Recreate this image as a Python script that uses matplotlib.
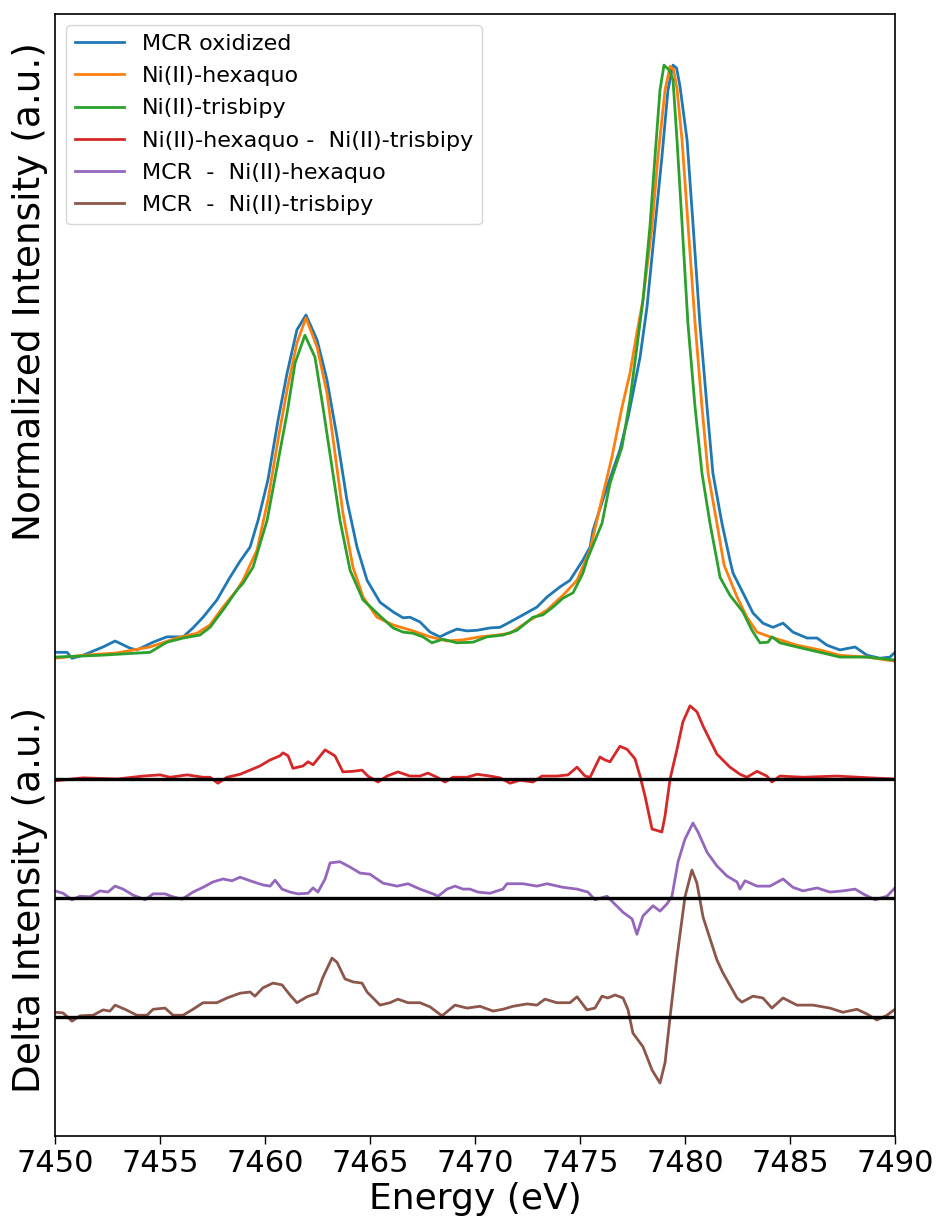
import matplotlib
matplotlib.use("Agg")
import matplotlib.pyplot as plt

# ---------------- data ----------------
mcr_E = [7450.00, 7450.57, 7450.81, 7451.33, 7452.29, 7452.86, 7453.57, 7453.90, 7454.67, 7455.33,
         7456.10, 7456.57, 7457.05, 7457.71, 7458.33, 7458.81, 7459.29, 7459.67, 7460.14, 7460.62,
         7461.05, 7461.52, 7461.95, 7462.48, 7462.95, 7463.43, 7463.90, 7464.38, 7464.86, 7465.48,
         7466.10, 7466.57, 7466.90, 7467.38, 7467.86, 7468.33, 7468.67, 7469.14, 7469.62, 7470.10,
         7470.71, 7471.19, 7471.67, 7472.29, 7472.95, 7473.43, 7474.05, 7474.52, 7475.14, 7475.48,
         7475.62, 7476.29, 7476.90, 7477.29, 7477.62, 7477.86, 7478.19, 7478.57, 7478.90, 7479.19,
         7479.43, 7479.60, 7479.76, 7480.10, 7480.38, 7480.71, 7481.05, 7481.33, 7481.76, 7482.14, 7482.29,
         7482.76, 7483.24, 7483.71, 7484.19, 7484.67, 7485.14, 7485.81, 7486.29, 7486.76, 7487.38,
         7488.10, 7488.67, 7489.29, 7489.76, 7490.00]
mcr_I = [0.013, 0.013, 0.003, 0.008, 0.022, 0.032, 0.020, 0.017, 0.030, 0.039,
         0.039, 0.054, 0.072, 0.101, 0.139, 0.166, 0.190, 0.235, 0.303, 0.403,
         0.482, 0.555, 0.580, 0.538, 0.471, 0.375, 0.269, 0.190, 0.134, 0.097,
         0.081, 0.071, 0.072, 0.064, 0.047, 0.039, 0.045, 0.052, 0.049, 0.050,
         0.054, 0.055, 0.064, 0.076, 0.089, 0.106, 0.123, 0.134, 0.168, 0.190,
         0.218, 0.291, 0.353, 0.408, 0.466, 0.509, 0.593, 0.728, 0.845, 0.958,
         1.000, 0.995, 0.965, 0.874, 0.734, 0.566, 0.425, 0.314, 0.230, 0.168, 0.146,
         0.113, 0.079, 0.062, 0.055, 0.062, 0.047, 0.037, 0.037, 0.025, 0.017,
         0.022, 0.008, 0.003, 0.005, 0.013]

hexaquo_E = [7450.00, 7451.33, 7452.95, 7454.52, 7455.81, 7456.76, 7457.38, 7458.00, 7458.67, 7458.95,
             7459.62, 7460.14, 7460.62, 7461.05, 7461.52, 7461.95, 7462.48, 7462.95, 7463.33, 7463.71,
             7464.19, 7464.67, 7465.33, 7466.10, 7467.05, 7467.86, 7468.67, 7469.43, 7470.24, 7471.05,
             7471.67, 7472.62, 7473.43, 7474.19, 7474.86, 7475.48, 7475.95, 7476.52, 7477.00, 7477.38,
             7477.71, 7478.00, 7478.43, 7478.71, 7479.05, 7479.29, 7479.45, 7479.62, 7479.86, 7480.14, 7480.48,
             7480.81, 7481.10, 7481.52, 7481.86, 7482.48, 7482.95, 7483.43, 7484.05, 7484.52, 7485.33,
             7486.43, 7487.38, 7488.67, 7490.00]
hexaquo_I = [0.003, 0.008, 0.012, 0.022, 0.037, 0.045, 0.059, 0.089, 0.118, 0.134,
             0.185, 0.269, 0.370, 0.454, 0.533, 0.575, 0.526, 0.449, 0.348, 0.247,
             0.156, 0.106, 0.072, 0.059, 0.049, 0.039, 0.032, 0.034, 0.039, 0.042,
             0.045, 0.067, 0.084, 0.109, 0.134, 0.185, 0.257, 0.341, 0.425, 0.482,
             0.550, 0.605, 0.728, 0.845, 0.958, 0.998, 0.993, 0.960, 0.874, 0.734, 0.566,
             0.425, 0.314, 0.230, 0.160, 0.106, 0.072, 0.047, 0.039, 0.034, 0.025,
             0.017, 0.008, 0.005, -0.002]

trisbipy_E = [7450.00, 7452.14, 7454.52, 7455.33, 7456.10, 7456.90, 7457.38, 7458.00, 7458.67, 7458.95,
              7459.43, 7460.10, 7460.57, 7461.05, 7461.43, 7461.90, 7462.38, 7462.76, 7463.19, 7463.57,
              7464.05, 7464.67, 7465.48, 7466.10, 7466.57, 7467.05, 7467.52, 7467.95, 7468.48, 7469.14,
              7469.90, 7470.57, 7471.33, 7472.00, 7472.76, 7473.24, 7473.71, 7474.19, 7474.67, 7475.14,
              7475.33, 7475.62, 7476.05, 7476.43, 7477.00, 7477.38, 7477.71, 7478.00, 7478.33, 7478.57,
              7478.81, 7479.00, 7479.24, 7479.43, 7479.62, 7479.86, 7480.14, 7480.48, 7480.81, 7481.19,
              7481.52, 7481.67, 7482.14, 7482.76, 7483.19, 7483.57, 7483.95, 7484.14, 7484.52, 7485.33,
              7486.43, 7487.38, 7488.67, 7490.00]
trisbipy_I = [0.005, 0.008, 0.013, 0.030, 0.037, 0.042, 0.055, 0.084, 0.118, 0.129,
              0.156, 0.235, 0.324, 0.415, 0.499, 0.546, 0.509, 0.425, 0.324, 0.235,
              0.151, 0.101, 0.074, 0.054, 0.047, 0.045, 0.039, 0.029, 0.035, 0.029,
              0.030, 0.039, 0.042, 0.050, 0.072, 0.076, 0.089, 0.104, 0.113, 0.146,
              0.168, 0.193, 0.230, 0.297, 0.358, 0.437, 0.526, 0.605, 0.728, 0.845,
              0.958, 1.000, 0.992, 0.975, 0.874, 0.734, 0.566, 0.425, 0.314, 0.230,
              0.168, 0.139, 0.109, 0.081, 0.050, 0.029, 0.030, 0.039, 0.029, 0.022,
              0.013, 0.005, 0.005, 0.000]

d_hex_tris_E = [7450.00, 7451.33, 7452.95, 7454.19, 7455.00, 7455.48, 7456.29, 7457.05, 7457.38, 7457.76,
                7458.19, 7458.81, 7459.29, 7459.76, 7460.24, 7460.71, 7460.86, 7461.10, 7461.33, 7461.81,
                7462.05, 7462.29, 7462.86, 7463.33, 7463.71, 7464.19, 7464.62, 7464.90, 7465.38, 7465.81,
                7466.33, 7466.90, 7467.38, 7467.76, 7468.19, 7468.57, 7468.95, 7469.62, 7470.10, 7470.71,
                7471.19, 7471.67, 7472.14, 7472.76, 7473.19, 7473.90, 7474.43, 7474.86, 7475.24, 7475.48,
                7475.95, 7476.19, 7476.43, 7476.90, 7477.24, 7477.62, 7477.86, 7478.10, 7478.43, 7478.90,
                7479.05, 7479.29, 7479.62, 7479.90, 7480.24, 7480.57, 7480.86, 7481.52, 7482.14, 7482.62,
                7482.95, 7483.43, 7483.90, 7484.14, 7484.52, 7485.62, 7487.24, 7488.81, 7490.00]
d_hex_tris = [-0.003, 0.002, 0.000, 0.005, 0.007, 0.003, 0.007, 0.003, 0.003, -0.007,
              0.003, 0.008, 0.015, 0.022, 0.032, 0.039, 0.044, 0.039, 0.018, 0.022,
              0.029, 0.024, 0.049, 0.039, 0.012, 0.013, 0.015, 0.005, -0.005, 0.005,
              0.012, 0.005, 0.005, 0.010, 0.003, -0.005, 0.003, 0.003, 0.008, 0.005,
              0.002, -0.007, -0.002, -0.005, 0.005, 0.005, 0.007, 0.020, 0.005, 0.003,
              0.037, 0.032, 0.029, 0.055, 0.050, 0.034, 0.005, -0.029, -0.084, -0.089,
              -0.062, 0.000, 0.050, 0.096, 0.123, 0.113, 0.089, 0.042, 0.020, 0.008,
              0.003, 0.013, 0.005, -0.005, 0.005, 0.003, 0.005, 0.002, 0.000]

d_mcr_hex_E = [7450.00, 7450.38, 7450.81, 7451.19, 7451.67, 7452.14, 7452.52, 7452.86, 7453.24, 7453.71,
               7454.29, 7454.67, 7455.24, 7455.62, 7456.05, 7456.57, 7457.05, 7457.52, 7458.00, 7458.43,
               7458.81, 7459.29, 7459.90, 7460.24, 7460.48, 7460.81, 7461.19, 7461.57, 7462.05, 7462.29,
               7462.52, 7462.86, 7463.10, 7463.57, 7464.05, 7464.52, 7465.00, 7465.62, 7466.29, 7466.81,
               7467.38, 7468.00, 7468.24, 7468.67, 7469.05, 7469.43, 7469.76, 7470.14, 7470.71, 7471.33,
               7471.52, 7472.29, 7472.95, 7473.43, 7474.19, 7474.86, 7475.38, 7475.71, 7476.29, 7476.57,
               7477.05, 7477.48, 7477.71, 7478.00, 7478.48, 7478.81, 7479.14, 7479.38, 7479.67, 7480.00,
               7480.38, 7480.62, 7481.05, 7481.52, 7482.00, 7482.48, 7482.62, 7482.86, 7483.43, 7484.05,
               7484.67, 7485.14, 7485.62, 7486.29, 7486.90, 7487.52, 7488.10, 7488.48, 7489.05, 7489.62,
               7490.00]
d_mcr_hex = [0.012, 0.008, -0.003, 0.003, 0.002, 0.012, 0.010, 0.020, 0.015, 0.005,
             -0.003, 0.007, 0.007, 0.002, -0.002, 0.010, 0.018, 0.027, 0.032, 0.029,
             0.035, 0.029, 0.022, 0.020, 0.030, 0.015, 0.010, 0.007, 0.008, 0.017,
             0.010, 0.032, 0.059, 0.061, 0.052, 0.042, 0.040, 0.025, 0.020, 0.024,
             0.015, 0.007, 0.003, 0.015, 0.020, 0.015, 0.015, 0.010, 0.008, 0.015,
             0.024, 0.024, 0.020, 0.024, 0.018, 0.015, 0.010, -0.003, 0.003, -0.007,
             -0.024, -0.035, -0.061, -0.030, -0.013, -0.022, -0.010, 0.003, 0.061, 0.099,
             0.126, 0.111, 0.077, 0.054, 0.037, 0.027, 0.015, 0.029, 0.020, 0.020,
             0.032, 0.018, 0.012, 0.017, 0.010, 0.012, 0.015, 0.007, -0.003, 0.003,
             0.017]

d_mcr_tris_E = [7450.00, 7450.38, 7450.81, 7451.19, 7451.81, 7452.29, 7452.62, 7452.86, 7453.33, 7453.90,
                7454.38, 7454.67, 7455.24, 7455.62, 7456.10, 7456.57, 7457.05, 7457.71, 7458.19, 7458.81,
                7459.29, 7459.52, 7459.90, 7460.38, 7460.81, 7461.19, 7461.52, 7462.00, 7462.48, 7462.76,
                7463.19, 7463.43, 7463.81, 7464.19, 7464.62, 7464.86, 7465.48, 7465.95, 7466.33, 7466.81,
                7467.38, 7467.86, 7468.43, 7469.05, 7469.62, 7470.24, 7470.86, 7471.33, 7471.81, 7472.48,
                7472.95, 7473.33, 7473.90, 7474.52, 7474.86, 7475.33, 7475.71, 7476.05, 7476.33, 7476.67,
                7477.05, 7477.29, 7477.52, 7478.00, 7478.43, 7478.81, 7479.05, 7479.29, 7479.62, 7480.00,
                7480.33, 7480.57, 7480.86, 7481.52, 7481.81, 7482.48, 7482.71, 7483.24, 7483.71, 7484.14,
                7484.67, 7485.33, 7486.10, 7486.90, 7487.52, 7488.19, 7488.67, 7489.14, 7489.62, 7490.00]
d_mcr_tris = [0.008, 0.007, -0.007, 0.002, 0.003, 0.012, 0.010, 0.020, 0.013, 0.003,
              0.003, 0.013, 0.015, 0.003, 0.003, 0.013, 0.024, 0.024, 0.032, 0.040,
              0.042, 0.035, 0.049, 0.057, 0.054, 0.037, 0.024, 0.034, 0.040, 0.067,
              0.099, 0.092, 0.064, 0.059, 0.057, 0.042, 0.020, 0.024, 0.030, 0.024,
              0.024, 0.017, 0.002, 0.020, 0.015, 0.018, 0.010, 0.013, 0.018, 0.022,
              0.020, 0.030, 0.024, 0.024, 0.034, 0.012, 0.015, 0.035, 0.032, 0.037,
              0.032, 0.012, -0.027, -0.050, -0.089, -0.111, -0.077, 0.000, 0.101, 0.202,
              0.247, 0.225, 0.168, 0.096, 0.074, 0.032, 0.025, 0.035, 0.032, 0.015,
              0.032, 0.020, 0.020, 0.015, 0.008, 0.013, 0.005, -0.005, 0.003, 0.013]

offsets = [-0.2, -0.4, -0.6]
x_ticks = [7450, 7455, 7460, 7465, 7470, 7475, 7480, 7485, 7490]

labels = ["MCR oxidized", "Ni(II)-hexaquo", "Ni(II)-trisbipy",
          "Ni(II)-hexaquo -  Ni(II)-trisbipy", "MCR  -  Ni(II)-hexaquo",
          "MCR  -  Ni(II)-trisbipy"]

# ---------------- plot ----------------
plt.rcParams['font.family'] = ['DejaVu Sans']
fig = plt.figure(figsize=(9.39, 12.24), dpi=100)
ax = fig.add_axes([0.0586, 0.0719, 0.8945, 0.9167])

lw = 2.0
ax.plot(mcr_E, mcr_I, color='C0', lw=lw, label=labels[0])
ax.plot(hexaquo_E, hexaquo_I, color='C1', lw=lw, label=labels[1])
ax.plot(trisbipy_E, trisbipy_I, color='C2', lw=lw, label=labels[2])

deltas = [(d_hex_tris_E, d_hex_tris, 'C3'),
          (d_mcr_hex_E, d_mcr_hex, 'C4'),
          (d_mcr_tris_E, d_mcr_tris, 'C5')]
for (E, d, c), off, lab in zip(deltas, offsets, labels[3:]):
    ax.plot(E, [v + off for v in d], color=c, lw=lw, label=lab)
    ax.axhline(off, color='black', lw=2.4, zorder=3)

ax.set_xlim(7450, 7490)
ax.set_ylim(-0.80, 1.086)
ax.set_xticks(x_ticks)
ax.set_yticks([])
ax.tick_params(axis='x', labelsize=22, length=6, width=1)
ax.set_xlabel("Energy (eV)", fontsize=26, labelpad=3)
for s in ax.spines.values():
    s.set_linewidth(1.2)

fig.text(0.032, 0.762, "Normalized Intensity (a.u.)", rotation=90,
         ha='center', va='center', fontsize=27)
fig.text(0.032, 0.265, "Delta Intensity (a.u.)", rotation=90,
         ha='center', va='center', fontsize=27)

ax.legend(loc='upper left', fontsize=16, labelspacing=0.55, handlelength=2.2)

fig.savefig("out.png", dpi=100)
